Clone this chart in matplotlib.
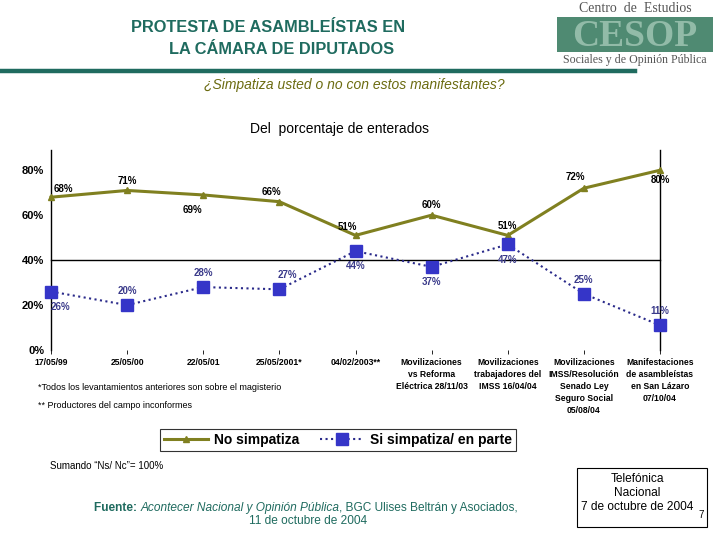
import matplotlib
matplotlib.use("Agg")
import matplotlib.pyplot as plt
from matplotlib.patches import Rectangle
from matplotlib.lines import Line2D

# Data
categories = [
    "17/05/99",
    "25/05/00",
    "22/05/01",
    "25/05/2001*",
    "04/02/2003**",
    "Movilizaciones\nvs Reforma\nEléctrica 28/11/03",
    "Movilizaciones\ntrabajadores del\nIMSS 16/04/04",
    "Movilizaciones\nIMSS/Resolución\nSenado Ley\nSeguro Social\n05/08/04",
    "Manifestaciones\nde asambleístas\nen San Lázaro\n07/10/04",
]
no_simpatiza = [68, 71, 69, 66, 51, 60, 51, 72, 80]
si_simpatiza = [26, 20, 28, 27, 44, 37, 47, 25, 11]
y_ticks = [0, 20, 40, 60, 80]

# label offsets in points (dx, dy)
no_offsets = [(9, 6), (0, 7), (-8, -11), (-6, 7), (-6, 6), (0, 7), (0, 7), (-6, 8), (0, -7)]
si_offsets = [(7, -11), (0, 10), (0, 10), (6, 10), (0, -11), (0, -11), (0, -11), (0, 10), (0, 10)]

W, H = 720, 540
OLIVE = "#808020"
NAVY = "#2a2a8a"
TEAL = "#1f6b5f"

plt.rcParams["font.family"] = ["Liberation Sans", "DejaVu Sans"]

fig = plt.figure(figsize=(7.2, 5.4), dpi=100)


def fx(x):
    return x / W


def fy(y):
    return 1 - y / H


# Header
fig.text(fx(268), fy(28), "PROTESTA DE ASAMBLEÍSTAS EN", ha="center", va="center",
         fontsize=11.8, fontweight="bold", color=TEAL)
fig.text(fx(282), fy(50), "LA CÁMARA DE DIPUTADOS", ha="center", va="center",
         fontsize=11.8, fontweight="bold", color=TEAL)
fig.add_artist(Line2D([0, fx(635)], [fy(71), fy(71)], color=TEAL, lw=3.2))

# Logo
fig.text(fx(635), fy(9), "Centro  de  Estudios", ha="center", va="center",
         fontsize=10, family="Liberation Serif", color="#555555")
fig.add_artist(Rectangle((fx(557), fy(52)), fx(156), 35 / H, color="#4f8a72", lw=0))
fig.text(fx(635), fy(36), "CESOP", ha="center", va="center", fontsize=27,
         fontweight="bold", family="Liberation Serif", color="#92bba8")
fig.text(fx(635), fy(60), "Sociales y de Opinión Pública", ha="center", va="center",
         fontsize=8.6, family="Liberation Serif", color="#555555")

fig.text(fx(354), fy(85), "¿Simpatiza usted o no con estos manifestantes?", ha="center",
         va="center", fontsize=10, style="italic", color="#6b6b10")
fig.text(fx(340), fy(129), "Del  porcentaje de enterados", ha="center", va="center",
         fontsize=10, color="black")

# Chart
ax = fig.add_axes([fx(51), fy(350), fx(609), 200 / H])
x = list(range(len(categories)))
ax.plot(x, no_simpatiza, color=OLIVE, lw=2.2, marker="^", ms=4,
        label="No simpatiza", zorder=3)
ax.plot(x, si_simpatiza, color=NAVY, lw=1.5, ls=":", marker="s", ms=9,
        mfc="#3535c8", mec="#3535c8", label="Si simpatiza/ en parte", zorder=3)
ax.axhline(40, color="black", lw=1, zorder=1)

for xi, v, (dx, dy) in zip(x, no_simpatiza, no_offsets):
    ax.annotate(f"{v}%", (xi, v), xytext=(dx, dy), textcoords="offset points",
                ha="center", va="center", fontsize=7, fontweight="bold", color="black")
for xi, v, (dx, dy) in zip(x, si_simpatiza, si_offsets):
    ax.annotate(f"{v}%", (xi, v), xytext=(dx, dy), textcoords="offset points",
                ha="center", va="center", fontsize=7, fontweight="bold", color="#3a3a8a")

ax.set_xlim(0, len(categories) - 1)
ax.set_ylim(0, 89)
ax.set_yticks(y_ticks)
ax.set_yticklabels([f"{t}%" for t in y_ticks], fontsize=8, fontweight="bold")
ax.tick_params(axis="y", length=0, pad=5)
ax.set_xticks(x)
ax.set_xticklabels(categories, fontsize=6.2, fontweight="bold", linespacing=1.4, va="top")
ax.tick_params(axis="x", length=3, direction="out", pad=3, width=0.6)
ax.spines["top"].set_visible(False)
ax.spines["bottom"].set_visible(False)
ax.spines["left"].set_linewidth(1)
ax.spines["right"].set_linewidth(1)
for ln in ax.lines:
    ln.set_clip_on(False)

# Footnotes
fig.text(fx(38), fy(387), "*Todos los levantamientos anteriores son sobre el magisterio",
         ha="left", va="center", fontsize=6.5)
fig.text(fx(38), fy(405), "** Productores del campo inconformes",
         ha="left", va="center", fontsize=6.5)

# Legend
leg = fig.legend(loc="center", bbox_to_anchor=(fx(338), fy(440)), ncol=2,
                 fontsize=10, frameon=True, fancybox=False, edgecolor="black",
                 handlelength=3.2, columnspacing=1.5, borderpad=0.3, handletextpad=0.4)
for t in leg.get_texts():
    t.set_fontweight("bold")
leg.get_frame().set_linewidth(0.8)

fig.text(fx(50), fy(466), "Sumando \u201cNs/ Nc\u201d= 100%", ha="left", va="center", fontsize=7)

# Source, pieces chained one after the other
t1 = fig.text(fx(94), fy(508), "Fuente: ", ha="left", va="center", fontsize=8.6,
              fontweight="bold", color=TEAL)
t2 = ax.annotate("Acontecer Nacional y Opinión Pública", xy=(1, 0.5), xycoords=t1,
                 ha="left", va="center", fontsize=8.6, style="italic", color=TEAL,
                 annotation_clip=False)
ax.annotate(", BGC Ulises Beltrán y Asociados,", xy=(1, 0.5), xycoords=t2,
            ha="left", va="center", fontsize=8.6, color=TEAL, annotation_clip=False)
fig.text(fx(308), fy(521), "11 de octubre de 2004", ha="center", va="center",
         fontsize=8.6, color=TEAL)

# Info box
fig.add_artist(Rectangle((fx(577), fy(527)), fx(130), 59 / H, fill=False,
                         edgecolor="black", lw=0.8))
fig.text(fx(637), fy(493), "Telefónica\nNacional\n7 de octubre de 2004", ha="center",
         va="center", fontsize=8.6, linespacing=1.25)
fig.text(fx(701), fy(515), "7", ha="center", va="center", fontsize=7)

fig.savefig("out.png", dpi=100)
